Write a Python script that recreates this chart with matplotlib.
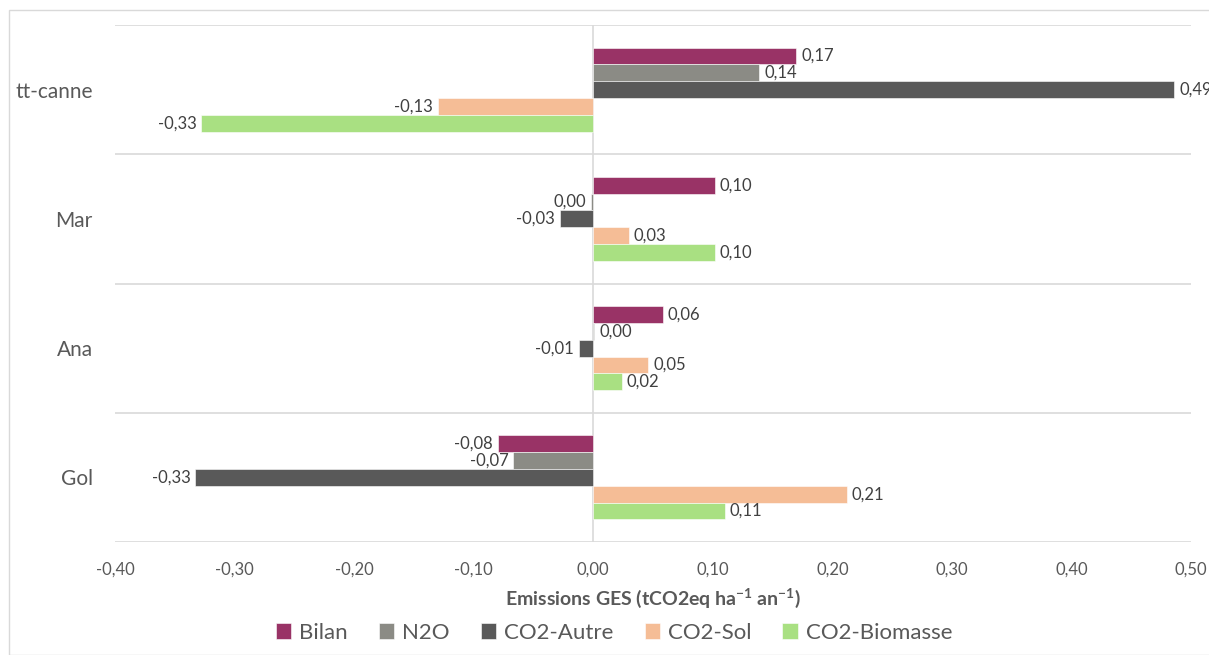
import matplotlib
matplotlib.use("Agg")
import matplotlib.pyplot as plt
from matplotlib.patches import Rectangle
from matplotlib.ticker import FuncFormatter, MultipleLocator
import numpy as np

plt.rcParams['font.family'] = ['Lato', 'DejaVu Sans']
plt.rcParams['mathtext.fontset'] = 'custom'
plt.rcParams['mathtext.rm'] = 'Lato'
plt.rcParams['mathtext.bf'] = 'Lato:bold'

# categories, top to bottom as drawn
sites = ["tt-canne", "Mar", "Ana", "Gol"]
series = ["Bilan", "N2O", "CO2-Autre", "CO2-Sol", "CO2-Biomasse"]
colors = ["#993366", "#8b8b85", "#595959", "#f5bd96", "#a9e082"]

bilan = [0.170, 0.102, 0.058, -0.080]
n2o = [0.139, -0.002, 0.001, -0.067]
co2_autre = [0.486, -0.028, -0.012, -0.333]
co2_sol = [-0.130, 0.030, 0.046, 0.212]
co2_biomasse = [-0.328, 0.102, 0.024, 0.110]

values = [bilan, n2o, co2_autre, co2_sol, co2_biomasse]

TXT = "#595959"


def fmt(v):
    s = f"{v:.2f}"
    if s in ("-0.00", "0.00"):
        s = "0.00"
    return s.replace(".", ",")


fig = plt.figure(figsize=(12.09, 6.55), dpi=100)
# outer chart border
fig.patches.append(Rectangle((9 / 1209, 0), 1.0, 1 - 10 / 655, transform=fig.transFigure,
                             fill=False, edgecolor="#d9d9d9", linewidth=1.0))
ax = fig.add_axes([115 / 1209, 1 - 542 / 655, 1076 / 1209, 517 / 655])

n_sites = len(sites)
ypos = np.arange(n_sites)
bh = 0.13
for i, (name, vals, col) in enumerate(zip(series, values, colors)):
    y = ypos + (i - 2) * bh
    ax.barh(y, vals, height=bh, color=col, edgecolor="white", linewidth=0.4, label=name, zorder=3)
    for yy, v in zip(y, vals):
        if v >= 0:
            ax.text(v + 0.004, yy, fmt(v), ha="left", va="center", fontsize=12, color="#404040", zorder=4)
        else:
            ax.text(v - 0.004, yy, fmt(v), ha="right", va="center", fontsize=12, color="#404040", zorder=4)

ax.set_xlim(-0.40, 0.50)
ax.set_ylim(n_sites - 0.5, -0.5)
ax.xaxis.set_major_locator(MultipleLocator(0.10))
ax.xaxis.set_major_formatter(FuncFormatter(lambda v, p: fmt(v)))
ax.set_yticks(ypos)
ax.set_yticklabels(sites, fontsize=15, color=TXT)
ax.tick_params(axis="y", length=0, pad=16)
ax.tick_params(axis="x", length=0, pad=14, labelsize=12, labelcolor=TXT)

# category separators
for b in np.arange(-0.5, n_sites, 1.0):
    ax.axhline(b, color="#d9d9d9", linewidth=1.2, zorder=1)
ax.axvline(0, color="#d9d9d9", linewidth=1.2, zorder=2)
for s in ax.spines.values():
    s.set_visible(False)

ax.set_xlabel(r"Emissions GES (tCO2eq ha$^{\mathbf{-1}}$ an$^{\mathbf{-1}}$)",
              fontsize=14, fontweight="bold", color=TXT, labelpad=6)

leg = fig.legend(loc="center", bbox_to_anchor=(614 / 1209, 1 - 633 / 655), ncol=5, frameon=False,
                 fontsize=16, handlelength=0.7, handleheight=0.7, handletextpad=0.35,
                 columnspacing=1.4, labelcolor=TXT)

fig.savefig("out.png", dpi=100)
